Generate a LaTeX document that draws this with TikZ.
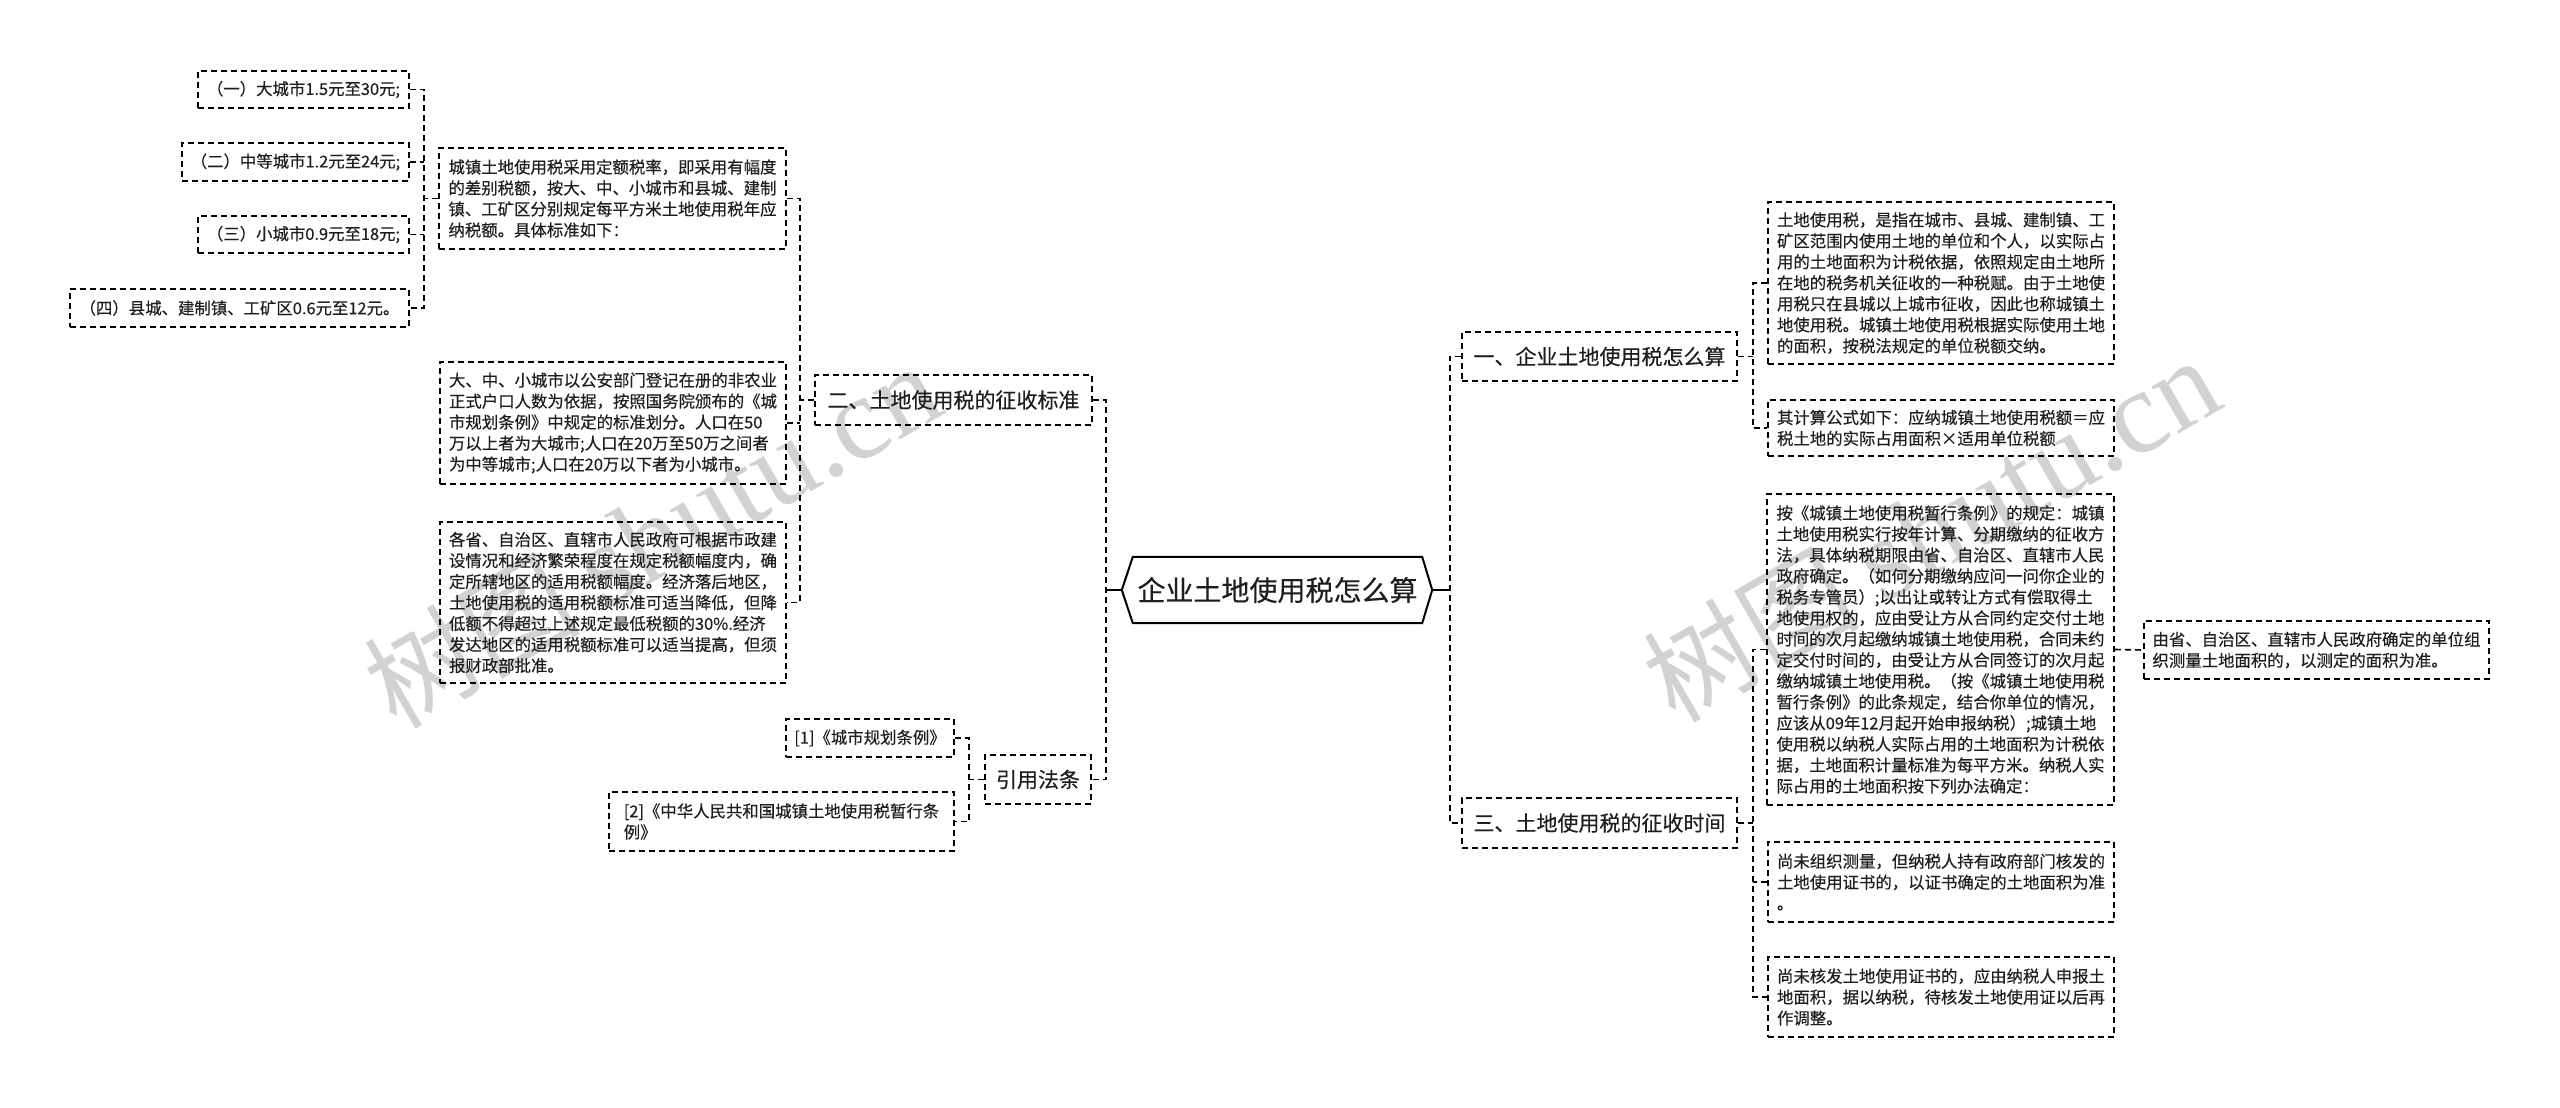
\documentclass[tikz,border=0pt]{standalone}
\usepackage{fontspec}
\setmainfont{Noto Sans CJK SC}
\newfontfamily\boxfont{Noto Sans CJK SC}[FakeBold=0.3]
\newfontfamily\wmserif{Liberation Serif}
\usetikzlibrary{calc}
\definecolor{txt}{HTML}{1E1E1E}
\definecolor{wmc}{HTML}{D2D2D2}
\begin{document}
\begin{tikzpicture}[x=1pt,y=-1pt,
  box/.style={draw=black, line width=1.6pt, dash pattern=on 6pt off 4pt, inner sep=0pt,
    font=\boxfont\fontsize{16.4}{21}\selectfont, text=txt, align=left},
  topic/.style={box, font=\boxfont\fontsize{21}{25}\selectfont},
  conn/.style={draw=black, line width=1.6pt, dash pattern=on 6pt off 4pt},
  rootline/.style={draw=black, line width=2pt},
  wm/.style={text=wmc, font=\fontsize{108}{110}\selectfont, rotate=30, inner sep=0pt}
]
\useasboundingbox (0,0) rectangle (2560,1108);
\fill[white] (0,0) rectangle (2560,1108);

% watermarks
\node[wm] (wm1) at (652,536) {树图 {\wmserif\fontsize{118}{120}\selectfont shutu.cn}};
\node[wm] (wm2) at (1931,530) {树图 {\wmserif\fontsize{118}{120}\selectfont shutu.cn}};

% spine coordinates
\coordinate (s1) at (424,0);
\coordinate (s2) at (800,0);
\coordinate (s3) at (969,0);
\coordinate (s4) at (1106,0);
\coordinate (s5) at (1450,0);
\coordinate (s6) at (1753,0);

% root
\node[inner sep=0pt, minimum width=289, minimum height=66, font=\boxfont\fontsize{28}{30}\selectfont, text=txt] (root) at (1277.5,590) {企业土地使用税怎么算};
\coordinate (rootL) at ($(root.west)+(-11,0)$);
\coordinate (rootR) at ($(root.east)+(10,0)$);
\draw[rootline, line join=miter] (root.north west) -- (root.north east) -- (rootR) -- (root.south east) -- (root.south west) -- (rootL) -- cycle;

% level-1 topics
\node[topic, minimum width=277, minimum height=50] (L1) at (953.5,400) {二、土地使用税的征收标准};
\node[topic, minimum width=106, minimum height=49] (L2) at (1038,779.5) {引用法条};
\node[topic, minimum width=275, minimum height=49] (L3) at (1599.5,356.5) {一、企业土地使用税怎么算};
\node[topic, minimum width=275, minimum height=50] (L4) at (1599.5,823) {三、土地使用税的征收时间};

% left leaves
\node[box, minimum width=211, minimum height=37] (n1) at (303.5,89.5) {（一）大城市1.5元至30元;};
\node[box, minimum width=227, minimum height=38] (n2) at (295.5,162) {（二）中等城市1.2元至24元;};
\node[box, minimum width=211, minimum height=37] (n3) at (303.5,234.5) {（三）小城市0.9元至18元;};
\node[box, minimum width=339, minimum height=38] (n4) at (239.5,308) {（四）县城、建制镇、工矿区0.6元至12元。};

\node[box, minimum width=347, minimum height=101] (A) at (612.5,198.5) {城镇土地使用税采用定额税率，即采用有幅度\\的差别税额，按大、中、小城市和县城、建制\\镇、工矿区分别规定每平方米土地使用税年应\\纳税额。具体标准如下：};
\node[box, minimum width=346, minimum height=122] (B) at (613,423) {大、中、小城市以公安部门登记在册的非农业\\正式户口人数为依据，按照国务院颁布的《城\\市规划条例》中规定的标准划分。人口在50\\万以上者为大城市;人口在20万至50万之间者\\为中等城市;人口在20万以下者为小城市。};
\node[box, minimum width=346, minimum height=161] (C) at (613,602.5) {各省、自治区、直辖市人民政府可根据市政建\\设情况和经济繁荣程度在规定税额幅度内，确\\定所辖地区的适用税额幅度。经济落后地区，\\土地使用税的适用税额标准可适当降低，但降\\低额不得超过上述规定最低税额的30\%.经济\\发达地区的适用税额标准可以适当提高，但须\\报财政部批准。};

\node[box, minimum width=168, minimum height=38] (R1) at (870,738) {[1]《城市规划条例》};
\node[box, minimum width=345, minimum height=59] (R2) at (781.5,821.5) {[2]《中华人民共和国城镇土地使用税暂行条\\例》\hphantom{中华人民共和国城镇土地使用税暂行}};

% right leaves
\node[box, minimum width=346, minimum height=162] (D) at (1941,283) {土地使用税，是指在城市、县城、建制镇、工\\矿区范围内使用土地的单位和个人，以实际占\\用的土地面积为计税依据，依照规定由土地所\\在地的税务机关征收的一种税赋。由于土地使\\用税只在县城以上城市征收，因此也称城镇土\\地使用税。城镇土地使用税根据实际使用土地\\的面积，按税法规定的单位税额交纳。};
\node[box, minimum width=346, minimum height=56] (E) at (1941,428) {其计算公式如下：应纳城镇土地使用税额＝应\\税土地的实际占用面积×适用单位税额};
\node[box, minimum width=347, minimum height=311] (F) at (1940.5,649.5) {按《城镇土地使用税暂行条例》的规定：城镇\\土地使用税实行按年计算、分期缴纳的征收方\\法，具体纳税期限由省、自治区、直辖市人民\\政府确定。（如何分期缴纳应问一问你企业的\\税务专管员）;以出让或转让方式有偿取得土\\地使用权的，应由受让方从合同约定交付土地\\时间的次月起缴纳城镇土地使用税，合同未约\\定交付时间的，由受让方从合同签订的次月起\\缴纳城镇土地使用税。（按《城镇土地使用税\\暂行条例》的此条规定，结合你单位的情况，\\应该从09年12月起开始申报纳税）;城镇土地\\使用税以纳税人实际占用的土地面积为计税依\\据，土地面积计量标准为每平方米。纳税人实\\际占用的土地面积按下列办法确定：};
\node[box, minimum width=346, minimum height=80] (G) at (1941,882) {尚未组织测量，但纳税人持有政府部门核发的\\土地使用证书的，以证书确定的土地面积为准\\。};
\node[box, minimum width=346, minimum height=80] (H) at (1941,997) {尚未核发土地使用证书的，应由纳税人申报土\\地面积，据以纳税，待核发土地使用证以后再\\作调整。};
\node[box, minimum width=345, minimum height=58] (I) at (2316.5,650) {由省、自治区、直辖市人民政府确定的单位组\\织测量土地面积的，以测定的面积为准。};

% connectors: root
\draw[rootline] (rootL) -- (rootL -| s4);
\draw[rootline] (rootR) -- (rootR -| s5);
\draw[conn] (L1.east) -- (L1.east -| s4) -- (L2.east -| s4) -- (L2.east);
\draw[conn] (L3.west) -- (L3.west -| s5) -- (L4.west -| s5) -- (L4.west);

% L1 children
\draw[conn] (A.east) -- (A.east -| s2) -- (C.east -| s2) -- (C.east);
\draw[conn] (B.east) -- (B.east -| s2);
\draw[conn] (L1.west) -- (L1.west -| s2);

% A children
\draw[conn] (n1.east) -- (n1.east -| s1) -- (n4.east -| s1) -- (n4.east);
\draw[conn] (n2.east) -- (n2.east -| s1);
\draw[conn] (n3.east) -- (n3.east -| s1);
\draw[conn] (A.west) -- (A.west -| s1);

% L2 children
\draw[conn] (R1.east) -- (R1.east -| s3) -- (R2.east -| s3) -- (R2.east);
\draw[conn] (L2.west) -- (L2.west -| s3);

% L3 children
\draw[conn] (D.west) -- (D.west -| s6) -- (E.west -| s6) -- (E.west);
\draw[conn] (L3.east) -- (L3.east -| s6);

% L4 children
\draw[conn] (F.west) -- (F.west -| s6) -- (H.west -| s6) -- (H.west);
\draw[conn] (G.west) -- (G.west -| s6);
\draw[conn] (L4.east) -- (L4.east -| s6);

% F child
\draw[conn] (F.east) -- (I.west);
\end{tikzpicture}
\end{document}
